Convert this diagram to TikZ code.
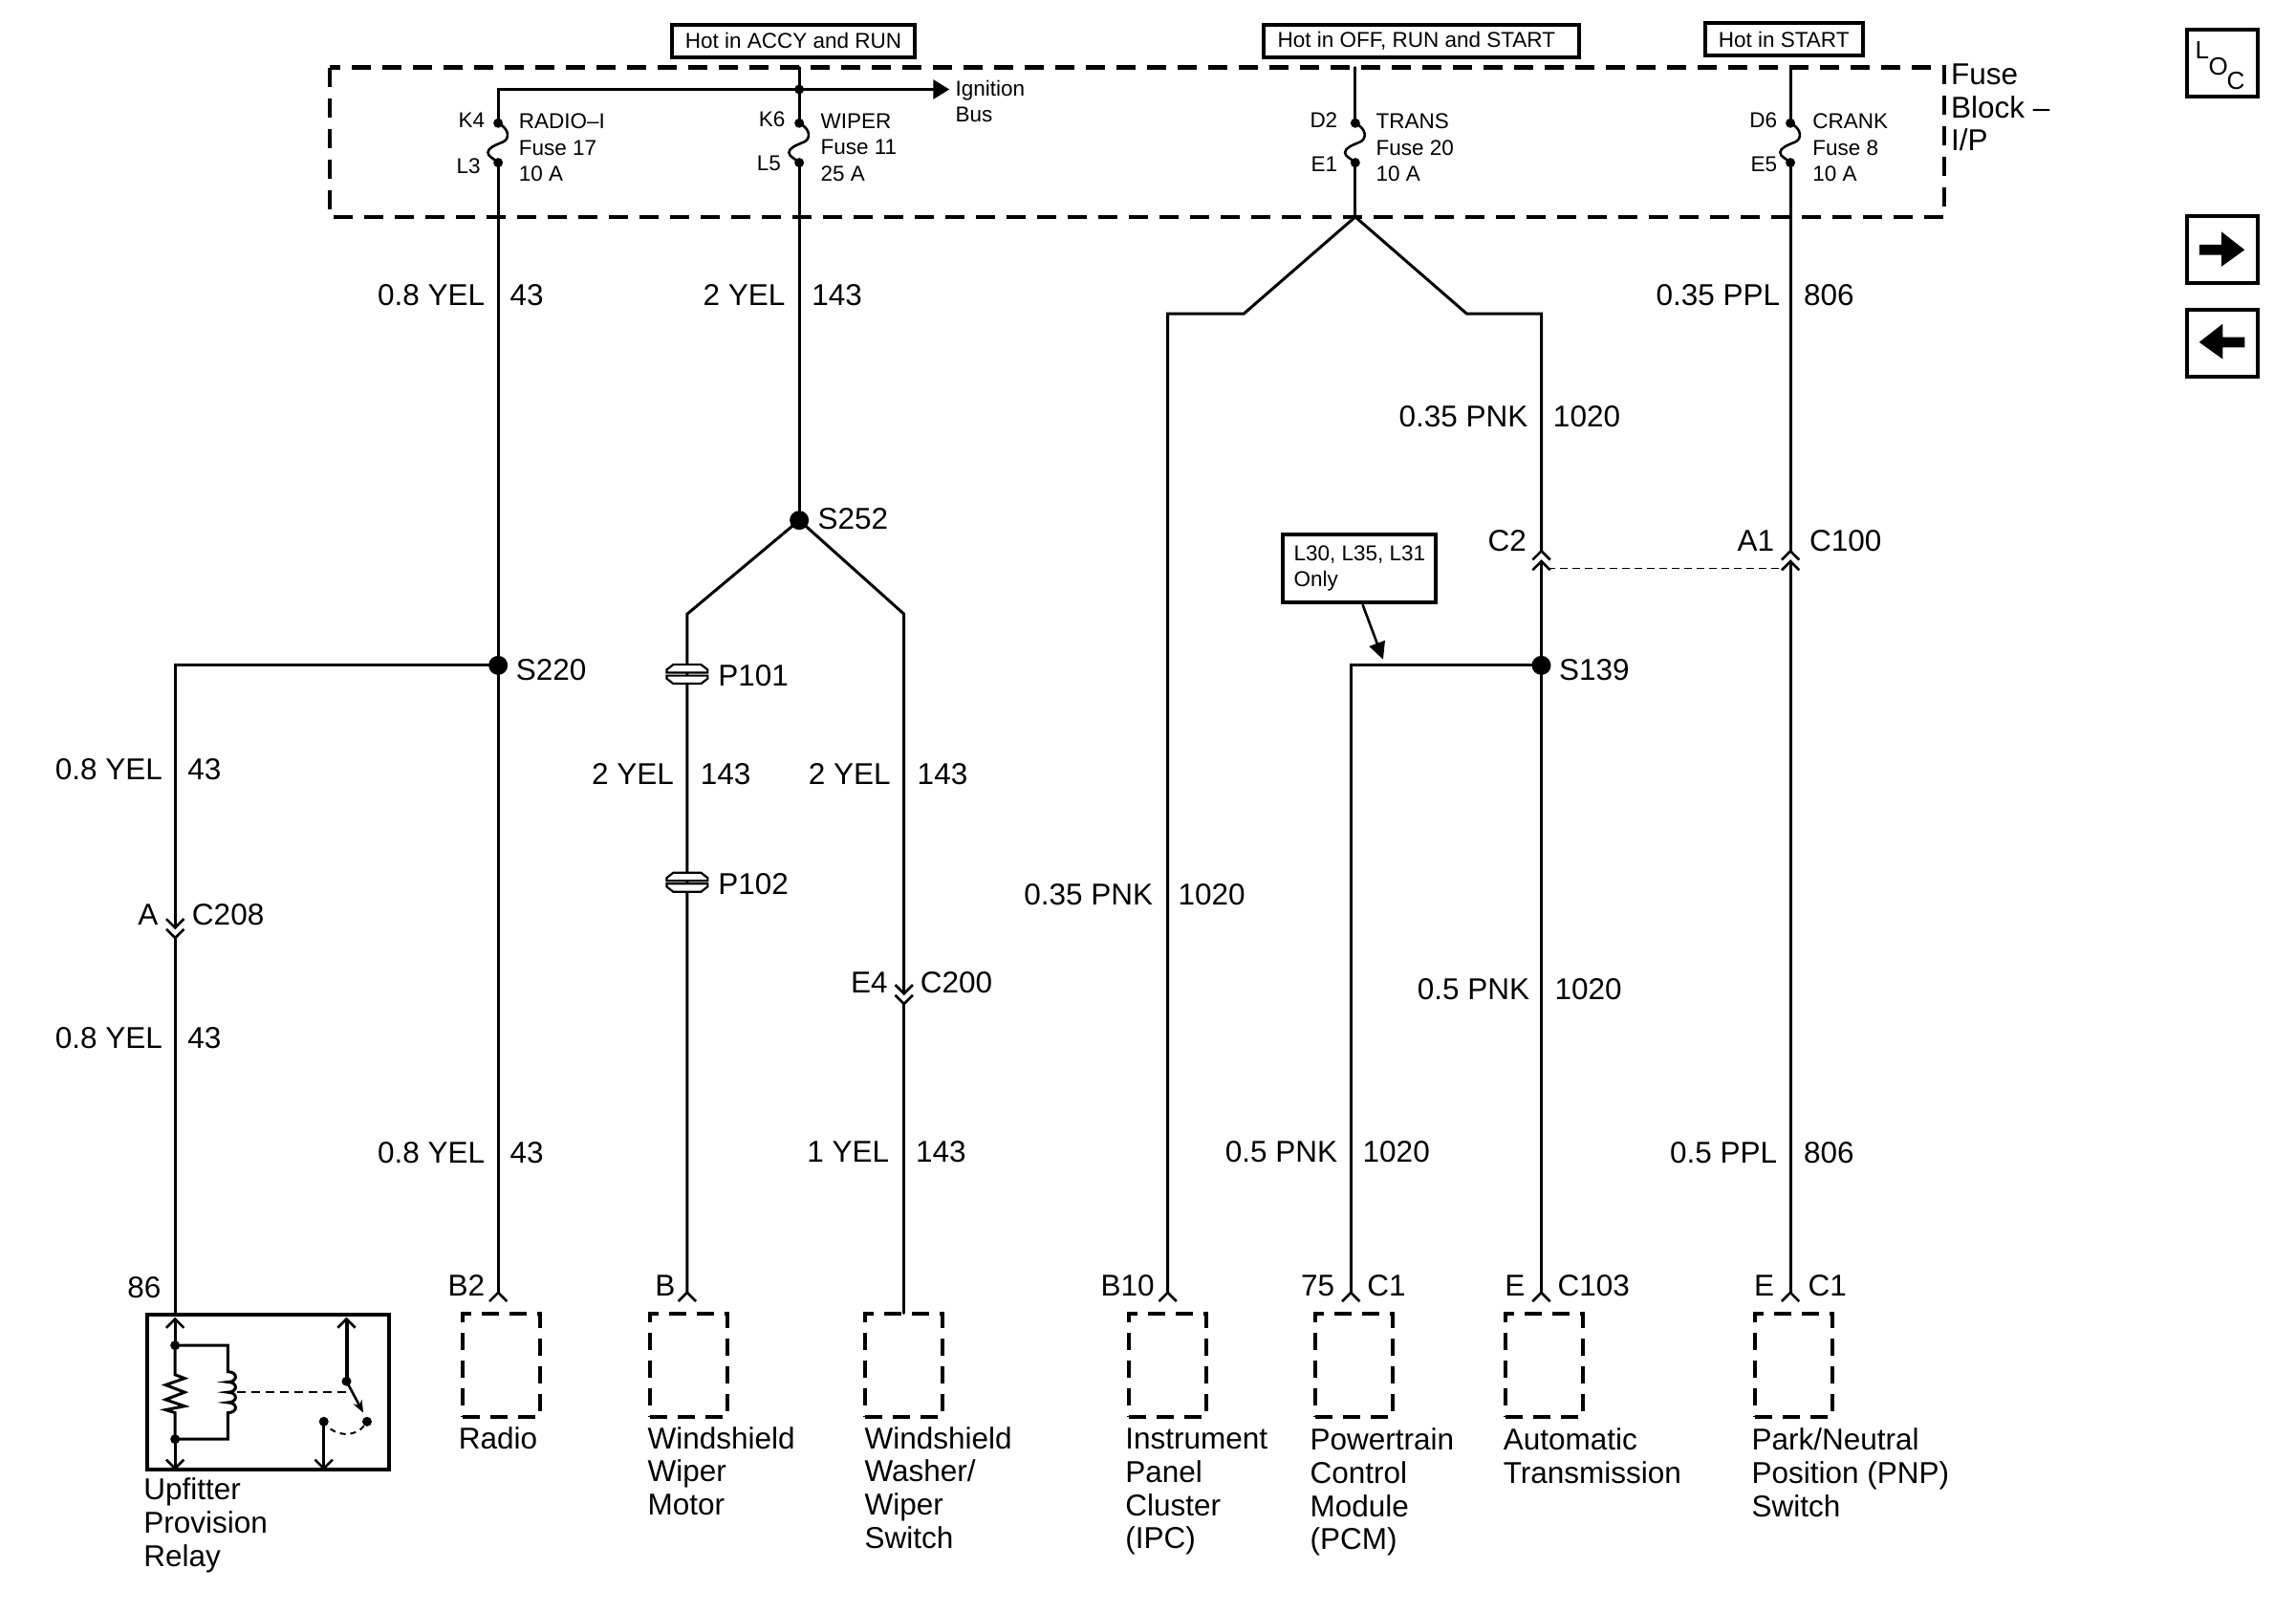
\documentclass[tikz,border=0pt]{standalone}
\usepackage{fontspec}
\setmainfont{Liberation Sans}
\usetikzlibrary{arrows.meta}
\tikzset{
  wire/.style={line width=3pt,line cap=round,line join=miter},
  fusebox/.style={line width=4.5pt,dash pattern=on 20pt off 12pt},
  compbox/.style={draw,line width=4pt,dash pattern=on 18pt off 11pt,minimum width=81pt,minimum height=108pt,inner sep=0pt},
  tagbox/.style={draw,line width=4pt,inner sep=0pt,font=\smallfont,align=left},
  navbox/.style={draw,line width=4pt,inner sep=0pt,minimum width=74pt,minimum height=70pt},
  lg/.style={inner sep=0pt,font=\largefont,yshift=-11.2pt},
  sm/.style={inner sep=0pt,font=\smallfont,yshift=-8.3pt},
  lgblock/.style={inner sep=0pt,font=\largefont,align=left,anchor=north west,yshift=13pt},
  smblock/.style={inner sep=0pt,font=\smallfont,align=left,anchor=north west,yshift=8.3pt},
  chevup/.pic={\draw[line width=2.6pt,line join=miter] (-6,6) -- (0,0) -- (6,6);},
  chevdown/.pic={\draw[line width=2.6pt,line join=miter] (-6,-6) -- (0,0) -- (6,-6);},
  fuselink/.pic={\draw[line width=2.6pt] (0,0) .. controls (8,4) and (8,11) .. (3,13) .. controls (-2,15) and (-7,17) .. (-7,20) .. controls (-7,23) and (-3,24) .. (0,27);},
  splice/.pic={\filldraw[fill=white,line width=2.2pt] (-9.5,-6.5) -- (9.5,-6.5) -- (14,-3) -- (14,-1) -- (9.5,-1) -- (-9.5,-1) -- (-14,-1) -- (-14,-3) -- cycle;
     \filldraw[fill=white,line width=2.2pt] (-14,1) -- (14,1) -- (14,3) -- (9.5,6.5) -- (-9.5,6.5) -- (-14,3) -- cycle;},
}
\newcommand{\largefont}{\fontsize{31.5}{34.7}\selectfont}
\newcommand{\smallfont}{\fontsize{22.5}{27.2}\selectfont}
\newcommand{\locfont}{\fontsize{26}{30}\selectfont}
\newcommand{\jdot}[1]{\fill (#1) circle[radius=10pt];}
\newcommand{\pdot}[1]{\fill (#1) circle[radius=5pt];}
% wire label pair: name, y, end of left text, start of right text, left, right
\newcommand{\wlab}[6]{\node[lg,anchor=base east] (#1l) at (#3,#2) {#5};\node[lg,anchor=base west] (#1r) at (#4,#2) {#6};}
\begin{document}
\begin{tikzpicture}[x=1.5328pt,y=-1.5328pt]
\useasboundingbox (0,0) rectangle (1567.07,1099.3);
% fuse block
\draw[fusebox] (225,46) rectangle (1327,148);
\node[tagbox,minimum width=254pt,minimum height=34pt] (hot1) at (541.5,28) {Hot in ACCY and RUN};
\node[tagbox,minimum width=330pt,minimum height=34pt] (hot2) at (970,28) {Hot in OFF, RUN and START\hspace*{10pt}};
\node[tagbox,minimum width=165pt,minimum height=34pt] (hot3) at (1217.5,27) {Hot in START};
\node[lgblock] (fb) at (1331.5,52) {Fuse\\Block --\\I/P};
% coordinates
\coordinate (busL) at (340,61); \coordinate (busJ) at (545.5,61); \coordinate (busR) at (648,61);
\coordinate (k4) at (340,84); \coordinate (l3) at (340,111);
\coordinate (t545) at (545.5,46); \coordinate (k6) at (545.5,84); \coordinate (l5) at (545.5,111);
\coordinate (t925) at (925,46); \coordinate (d2) at (925,84); \coordinate (e1) at (925,111); \coordinate (v925) at (925,148);
\coordinate (t1222) at (1222,46); \coordinate (d6) at (1222,84); \coordinate (e5) at (1222,111);
\coordinate (s220) at (340,454); \coordinate (s252) at (545.5,355); \coordinate (s139) at (1052,454);
\coordinate (b2) at (340,882); \coordinate (bb) at (469,882); \coordinate (b10) at (797,882);
\coordinate (c75) at (922,882); \coordinate (ce) at (1052,882); \coordinate (e1c) at (1222,882);
\coordinate (w86) at (119.5,897); \coordinate (sw) at (617,896);
\coordinate (corner220) at (119.5,454);
\coordinate (a208a) at (119.5,633); \coordinate (a208b) at (119.5,640);
\coordinate (e4a) at (617,678); \coordinate (e4b) at (617,685);
\coordinate (c2a) at (1052,376); \coordinate (c2b) at (1052,383);
\coordinate (a1a) at (1222,376); \coordinate (a1b) at (1222,383);
\coordinate (dL) at (1056,388); \coordinate (dR) at (1218,388);
\coordinate (k252a) at (469,419); \coordinate (k252b) at (617,419);
\coordinate (tl) at (849,214); \coordinate (tl2) at (797,214);
\coordinate (tr) at (1001,214); \coordinate (tr2) at (1052,214);
\coordinate (c139) at (922,454);
\coordinate (p101) at (469,460); \coordinate (p102) at (469,602);
% wires
\draw[wire,-{Triangle[length=17pt,width=20pt]}] (k4) -- (busL) -- (busR);
\draw[wire] (t545) -- (k6);
\draw[wire] (l3) -- (b2);
\draw[wire] (s220) -- (corner220) -- (a208a);
\draw[wire] (a208b) -- (w86);
\draw[wire] (l5) -- (s252);
\draw[wire] (s252) -- (k252a) -- (bb);
\draw[wire] (s252) -- (k252b) -- (e4a);
\draw[wire] (e4b) -- (sw);
\draw[wire] (t925) -- (d2);
\draw[wire] (e1) -- (v925);
\draw[wire] (v925) -- (tl) -- (tl2) -- (b10);
\draw[wire] (v925) -- (tr) -- (tr2) -- (c2a);
\draw[wire] (c2b) -- (ce);
\draw[wire] (s139) -- (c139) -- (c75);
\draw[wire] (t1222) -- (d6);
\draw[wire] (e5) -- (a1a);
\draw[wire] (a1b) -- (e1c);
\draw[line width=1.3pt,dash pattern=on 8pt off 5pt] (dL) -- (dR);
% fuses, dots
\foreach \a/\b in {k4/l3,k6/l5,d2/e1,d6/e5}{\pdot{\a}\pdot{\b}\pic at (\a) {fuselink};}
\pdot{busJ}
\jdot{s220}\jdot{s252}\jdot{s139}
\pic at (p101) {splice}; \pic at (p102) {splice};
% connectors
\foreach \c in {b2,bb,b10,c75,ce,e1c,c2a,c2b,a1a,a1b}{\pic at (\c) {chevup};}
\foreach \c in {a208a,a208b,e4a,e4b}{\pic at (\c) {chevdown};}
% component boxes
\node[compbox] (radio) at (342,931.5) {};
\node[compbox] (motor) at (470,931.5) {};
\node[compbox] (washer) at (617,931.5) {};
\node[compbox] (ipc) at (797,931.5) {};
\node[compbox] (pcm) at (924,931.5) {};
\node[compbox] (at) at (1054,931.5) {};
\node[compbox] (pnp) at (1224,931.5) {};
% fuse text
\node[sm,anchor=base east] (n1) at (331,82) {K4};
\node[sm,anchor=base east] (n2) at (328,113) {L3};
\node[sm,anchor=base east] (n3) at (536,81) {K6};
\node[sm,anchor=base east] (n4) at (533,111) {L5};
\node[sm,anchor=base east] (n5) at (913,82) {D2};
\node[sm,anchor=base east] (n6) at (913,112) {E1};
\node[sm,anchor=base east] (n7) at (1213,82) {D6};
\node[sm,anchor=base east] (n8) at (1213,112) {E5};
\node[smblock] (f1) at (354,83) {RADIO--I\\Fuse 17\\10 A};
\node[smblock] (f2) at (560,83) {WIPER\\Fuse 11\\25 A};
\node[smblock] (f3) at (939,83) {TRANS\\Fuse 20\\10 A};
\node[smblock] (f4) at (1237,83) {CRANK\\Fuse 8\\10 A};
\node[smblock] (ign) at (652,60) {Ignition\\Bus};
% wire labels
\wlab{a}{201}{331}{348}{0.8 YEL}{43}
\wlab{b}{201}{536}{554}{2 YEL}{143}
\wlab{c}{201}{1215}{1231}{0.35 PPL}{806}
\wlab{d}{284}{1043}{1060}{0.35 PNK}{1020}
\wlab{e}{525}{111}{128}{0.8 YEL}{43}
\wlab{f}{708}{111}{128}{0.8 YEL}{43}
\wlab{g}{786.5}{331}{348}{0.8 YEL}{43}
\wlab{h}{528}{460}{478}{2 YEL}{143}
\wlab{i}{528}{608}{626}{2 YEL}{143}
\wlab{j}{786}{607}{625}{1 YEL}{143}
\wlab{k}{610}{787}{804}{0.35 PNK}{1020}
\wlab{m}{675}{1044}{1061}{0.5 PNK}{1020}
\wlab{o}{786}{913}{930}{0.5 PNK}{1020}
\wlab{q}{786.5}{1213}{1231}{0.5 PPL}{806}
% splice / connector labels
\node[lg,anchor=base west] (l1) at (558,354) {S252};
\node[lg,anchor=base west] (l2) at (352,457) {S220};
\node[lg,anchor=base west] (l3t) at (1064,457) {S139};
\node[lg,anchor=base west] (l4) at (490,461) {P101};
\node[lg,anchor=base west] (l5t) at (490,603) {P102};
\node[lg,anchor=base east] (l6) at (1042,369) {C2};
\node[lg,anchor=base east] (l7) at (1211,369) {A1};
\node[lg,anchor=base west] (l8) at (1235,369) {C100};
\node[lg,anchor=base east] (l9) at (108,624) {A};
\node[lg,anchor=base west] (l10) at (131,624) {C208};
\node[lg,anchor=base east] (l11) at (606,670) {E4};
\node[lg,anchor=base west] (l12) at (628,670) {C200};
\node[lg,anchor=base east] (l13) at (110,878) {86};
\node[lg,anchor=base east] (l14) at (331,877) {B2};
\node[lg,anchor=base east] (l15) at (461,877) {B};
\node[lg,anchor=base east] (l16) at (788,877) {B10};
\node[lg,anchor=base east] (l17) at (911,877) {75};
\node[lg,anchor=base west] (l18) at (933,877) {C1};
\node[lg,anchor=base east] (l19) at (1041,877) {E};
\node[lg,anchor=base west] (l20) at (1063,877) {C103};
\node[lg,anchor=base east] (l21) at (1211,877) {E};
\node[lg,anchor=base west] (l22) at (1234,877) {C1};
% component names
\node[lgblock] (u1) at (98,1017) {Upfitter\\Provision\\Relay};
\node[lgblock] (u2) at (313,982) {Radio};
\node[lgblock] (u3) at (442,982) {Windshield\\Wiper\\Motor};
\node[lgblock] (u4) at (590,982) {Windshield\\Washer/\\Wiper\\Switch};
\node[lgblock] (u5) at (768,983) {Instrument\\Panel\\Cluster\\(IPC)};
\node[lgblock] (u6) at (894,983) {Powertrain\\Control\\Module\\(PCM)};
\node[lgblock] (u7) at (1026,983) {Automatic\\Transmission};
\node[lgblock] (u8) at (1195.5,983) {Park/Neutral\\Position (PNP)\\Switch};
% option note
\node[tagbox,minimum width=160pt,minimum height=71pt] (opt) at (928,388) {L30, L35, L31\\Only};
\coordinate (optT) at (944,450);
\draw[line width=2.6pt,-{Triangle[length=18pt,width=17pt]}] (opt.south) ++(2,0) -- (optT);
% relay
\begin{scope}[shift={(100.5,897)}]
\draw[line width=4pt] (0,0) rectangle (165,106);
\coordinate (rtop) at (19,3); \coordinate (rj1) at (19,21); \coordinate (rj2) at (19,85);
\coordinate (rbot) at (19,105);
\coordinate (rc1) at (55,21); \coordinate (rc2) at (55,85);
\coordinate (rs1) at (136,3); \coordinate (rs2) at (136,45.5);
\coordinate (rs3) at (150,73); \coordinate (rs4) at (120.5,73); \coordinate (rs5) at (120.5,105);
\coordinate (rs3a) at (147.5,67);
\coordinate (rd1) at (61,53); \coordinate (rd2) at (139,53);
\draw[wire] (rtop) -- (rj1);
\draw[wire] (rj1) -- (19,41) -- (25.5,43.5) -- (12.5,48) -- (25.5,53) -- (12.5,58) -- (25.5,62.5) -- (12.5,65) -- (19,67) -- (rj2);
\draw[wire] (rj2) -- (rbot);
\draw[wire] (rj1) -- (rc1) -- (55,39)
  .. controls (62,39) and (62,46) .. (55,46) .. controls (62,46) and (62,53) .. (55,53)
  .. controls (62,53) and (62,60) .. (55,60) .. controls (62,60) and (62,67) .. (55,67)
  -- (rc2) -- (rj2);
\draw[line width=4pt] (rs1) -- (rs2);
\draw[line width=2.6pt,-{Stealth[length=13pt,width=10pt]}] (rs2) -- (rs3a);
\draw[wire] (rs4) -- (rs5);
\draw[line width=1.6pt,dash pattern=on 9pt off 6pt] (rd1) -- (rd2);
\draw[line width=2pt,dash pattern=on 6pt off 5pt] (125,78) .. controls (132,83) and (142,83) .. (148,76);
\pdot{rj1}\pdot{rj2}\pdot{rs2}\pdot{rs3}\pdot{rs4}
\pic at (rtop) {chevup}; \pic at (rs1) {chevup};
\pic at (rbot) {chevdown}; \pic at (rs5) {chevdown};
\end{scope}
% navigation
\node[navbox] (loc) at (1517,43) {};
\node[inner sep=0pt,font=\locfont,anchor=base] (locL) at (1503,40) {L};
\node[inner sep=0pt,font=\locfont,anchor=base] (locO) at (1514,51) {O};
\node[inner sep=0pt,font=\locfont,anchor=base] (locC) at (1526,61) {C};
\node[navbox] (nxt) at (1517,170.5) {};
\node[navbox] (prv) at (1517,234) {};
\fill (1501,167) -- (1516,167) -- (1516,158) -- (1532,170.5) -- (1516,182) -- (1516,174) -- (1501,174) -- cycle;
\fill (1532,230) -- (1517,230) -- (1517,221) -- (1501,233.5) -- (1517,245) -- (1517,237) -- (1532,237) -- cycle;
\end{tikzpicture}
\end{document}
